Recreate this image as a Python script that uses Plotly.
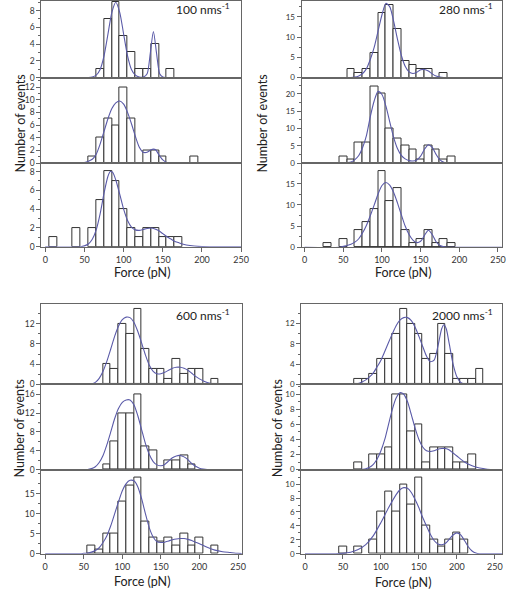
import plotly.graph_objects as go

W, H = 513, 601

# ---------------- data ----------------
bin_centers = [10, 20, 30, 40, 50, 60, 70, 80, 90, 100, 110, 120, 130, 140, 150,
               160, 170, 180, 190, 200, 210, 220, 230]

# 100 nm/s
counts_100_a = [0, 0, 0, 0, 0, 0, 1, 7, 9, 5, 3, 1, 1, 4, 0, 1, 0, 0, 0, 0, 0, 0, 0]
counts_100_b = [0, 0, 0, 0, 0, 1, 4, 7, 6, 12, 7, 0, 2, 2, 1, 0, 0, 0, 1, 0, 0, 0, 0]
counts_100_c = [1, 0, 0, 2, 0, 2, 5, 8, 7, 4, 2, 1, 2, 2, 1, 1, 1, 0, 0, 0, 0, 0, 0]
# 280 nm/s
counts_280_a = [0, 0, 0, 0, 0, 2, 1, 2, 6, 16, 18, 12, 4, 3, 2, 2, 0, 1, 0, 0, 0, 0, 0]
counts_280_b = [0, 0, 0, 0, 2, 1, 6, 6, 22, 20, 10, 7, 5, 4, 1, 5, 4, 1, 2, 0, 0, 0, 0]
counts_280_c = [0, 0, 1, 0, 2, 0, 4, 6, 9, 18, 11, 14, 4, 1, 2, 4, 1, 2, 1, 0, 0, 0, 0]
# 600 nm/s
counts_600_a = [0, 0, 0, 0, 0, 0, 0, 4, 3, 12, 10, 15, 7, 3, 3, 1, 5, 2, 3, 3, 0, 1, 0]
counts_600_b = [0, 0, 0, 0, 0, 0, 0, 1, 6, 12, 12, 16, 5, 4, 0, 2, 2, 3, 1, 0, 0, 0, 0]
counts_600_c = [0, 0, 0, 0, 0, 2, 1, 5, 5, 13, 17, 19, 8, 4, 3, 4, 2, 5, 2, 4, 0, 2, 0]
# 2000 nm/s
counts_2000_a = [0, 0, 0, 0, 0, 0, 1, 1, 2, 5, 5, 10, 15, 12, 10, 5, 6, 12, 6, 1, 1, 1, 3]
counts_2000_b = [0, 0, 0, 0, 0, 0, 1, 0, 2, 2, 3, 10, 10, 5, 6, 1, 3, 3, 3, 1, 1, 2, 0]
counts_2000_c = [0, 0, 0, 0, 1, 0, 1, 0, 2, 6, 9, 6, 10, 7, 11, 4, 2, 1, 2, 3, 2, 0, 0]

# fitted curves
fitx_100_a = [0, 55, 60, 65, 70, 75, 80, 85, 90, 95, 100, 105, 110, 115, 120, 125, 130, 134, 138, 142, 146, 150, 155, 250]
fity_100_a = [0, 0, 0.06, 0.28, 0.97, 2.6, 5.2, 7.8, 9, 7.8, 5.2, 2.6, 0.97, 0.28, 0.06, 0.05, 0.45, 2.9, 5.5, 2.9, 0.45, 0.05, 0, 0]

fitx_100_b = [0, 45, 50, 55, 60, 65, 70, 75, 80, 85, 90, 95, 100, 105, 110, 115, 120, 125, 130, 135, 138, 141, 145, 150, 155, 160, 250]
fity_100_b = [0, 0, 0.1, 0.3, 0.6, 1.4, 3, 5, 7, 8.6, 9.5, 9.8, 9.3, 8, 6.2, 4.2, 2.5, 1.7, 1.7, 2.1, 2.2, 2.1, 1.3, 0.5, 0.1, 0, 0]

fitx_100_c = [0, 45, 50, 55, 60, 65, 70, 75, 80, 83, 86, 90, 95, 100, 105, 110, 115, 120, 125, 130, 135, 140, 145, 150, 155, 160, 165, 170, 175, 180, 190, 200, 210, 250]
fity_100_c = [0, 0, 0.1, 0.3, 0.8, 1.8, 3.5, 5.7, 7.5, 8, 7.9, 7.1, 5.6, 4, 2.8, 2.1, 1.8, 1.75, 1.85, 1.95, 2, 1.9, 1.7, 1.4, 1.1, 0.85, 0.6, 0.45, 0.3, 0.2, 0.08, 0.02, 0, 0]

fitx_280_a = [0, 60, 65, 70, 75, 80, 85, 90, 95, 100, 105, 110, 115, 120, 125, 130, 135, 140, 145, 150, 155, 160, 165, 170, 175, 180, 255]
fity_280_a = [0, 0, 0.1, 0.4, 1, 2.2, 4.5, 7.5, 11.5, 15.5, 18.3, 17.5, 14, 9.5, 5.5, 2.8, 1.4, 1.0, 1.3, 1.9, 2.0, 1.6, 0.9, 0.35, 0.1, 0, 0]

fitx_280_b = [0, 50, 55, 60, 65, 70, 75, 80, 85, 90, 95, 100, 105, 110, 115, 120, 125, 130, 135, 140, 145, 150, 155, 160, 165, 170, 175, 180, 185, 255]
fity_280_b = [0, 0, 0.1, 0.3, 1, 2.2, 4.5, 8, 13.5, 18, 20.7, 19.8, 16.5, 12, 7.5, 4.2, 2.2, 1.2, 0.7, 0.6, 0.9, 2, 4, 5.3, 4.5, 2.5, 0.9, 0.2, 0, 0]

fitx_280_c = [0, 45, 50, 55, 60, 65, 70, 75, 80, 85, 90, 95, 100, 105, 110, 115, 120, 125, 130, 135, 140, 145, 150, 155, 160, 165, 170, 175, 180, 185, 255]
fity_280_c = [0, 0, 0.2, 0.4, 0.7, 1.2, 2, 3.4, 5.2, 7.5, 10, 12.6, 14.6, 15.3, 14.7, 13, 10.5, 7.7, 5, 3, 1.7, 1.1, 1.4, 2.8, 4, 3, 1.3, 0.4, 0.1, 0, 0]

fitx_600_a = [0, 55, 60, 65, 70, 75, 80, 85, 90, 95, 100, 105, 110, 115, 120, 125, 130, 135, 140, 145, 150, 155, 160, 165, 170, 175, 180, 185, 190, 195, 200, 205, 210, 215, 220, 225, 255]
fity_600_a = [0, 0, 0.1, 0.4, 1.2, 2.6, 4.6, 7, 9.5, 11.5, 12.8, 13.3, 13.2, 12.3, 10.5, 8.2, 5.8, 3.8, 2.6, 2.1, 2.1, 2.4, 2.8, 3.2, 3.4, 3.4, 3.2, 2.8, 2.2, 1.6, 1.1, 0.7, 0.4, 0.2, 0.1, 0, 0]

fitx_600_b = [0, 55, 60, 65, 70, 75, 80, 85, 90, 95, 100, 105, 110, 115, 120, 125, 130, 135, 140, 145, 150, 155, 160, 165, 170, 175, 180, 185, 190, 195, 200, 205, 210, 255]
fity_600_b = [0, 0, 0.2, 0.6, 1.5, 3, 5.3, 8, 10.8, 13, 14.3, 14.8, 14.8, 13.8, 11.5, 8.5, 5.5, 3.2, 1.7, 1, 0.8, 1.1, 1.8, 2.5, 2.9, 3, 2.7, 2.1, 1.3, 0.7, 0.3, 0.1, 0, 0]

fitx_600_c = [0, 45, 50, 55, 60, 65, 70, 75, 80, 85, 90, 95, 100, 105, 110, 115, 120, 125, 130, 135, 140, 145, 150, 155, 160, 165, 170, 175, 180, 185, 190, 195, 200, 210, 220, 230, 240, 250, 255]
fity_600_c = [0, 0, 0.1, 0.2, 0.4, 0.8, 1.5, 2.8, 4.5, 7, 10, 13, 15.8, 17.6, 18.4, 18.3, 16.8, 13.8, 10, 6.5, 4.2, 3, 2.8, 2.9, 3.2, 3.5, 3.7, 3.8, 3.8, 3.6, 3.3, 2.9, 2.5, 1.6, 0.9, 0.5, 0.3, 0.1, 0.05]

fitx_2000_a = [0, 60, 70, 75, 80, 85, 90, 95, 100, 105, 110, 115, 120, 125, 130, 135, 140, 145, 150, 155, 160, 165, 170, 175, 180, 183, 186, 190, 195, 200, 205, 210, 215, 260]
fity_2000_a = [0, 0, 0.2, 0.5, 0.9, 1.5, 2.3, 3.5, 4.8, 6.5, 8.3, 10, 11.6, 12.7, 13.2, 13.2, 12.6, 11.3, 9.5, 7.5, 5.6, 4.5, 4.8, 7.5, 11, 11.8, 11, 8, 4, 1.5, 0.4, 0.1, 0, 0]

fitx_2000_b = [0, 70, 80, 85, 90, 95, 100, 105, 110, 115, 120, 125, 130, 135, 140, 145, 150, 155, 160, 165, 170, 175, 180, 185, 190, 195, 200, 210, 220, 230, 240, 250, 260]
fity_2000_b = [0, 0, 0.1, 0.3, 0.7, 1.4, 2.5, 4, 6, 8, 9.5, 10.2, 10, 9, 7.3, 5.5, 4, 3, 2.5, 2.4, 2.5, 2.7, 2.8, 2.8, 2.6, 2.2, 1.8, 1, 0.5, 0.2, 0.05, 0, 0]

fitx_2000_c = [0, 40, 50, 60, 70, 80, 90, 100, 110, 120, 125, 130, 135, 140, 145, 150, 155, 160, 165, 170, 175, 180, 185, 190, 195, 200, 205, 210, 215, 220, 225, 230, 260]
fity_2000_c = [0, 0, 0.05, 0.2, 0.6, 1.3, 2.6, 4.5, 6.6, 8.5, 9.2, 9.5, 9.4, 8.8, 7.8, 6.6, 5.2, 4, 2.8, 1.9, 1.4, 1.3, 1.5, 2.1, 2.7, 3, 2.7, 1.9, 1, 0.4, 0.1, 0, 0]

speed_labels = ["100", "280", "600", "2000"]
x_title = "Force (pN)"
y_title = "Number of events"
x_ticks = [0, 50, 100, 150, 200, 250]

# y tick labels per panel row
yticks_100 = [[0, 2, 4, 6, 8], [0, 2, 4, 6, 8, 10, 12], [0, 2, 4, 6, 8]]
yticks_280 = [[0, 5, 10, 15], [0, 5, 10, 15, 20], [0, 5, 10, 15]]
yticks_600 = [[0, 4, 8, 12], [0, 4, 8, 12, 16], [0, 5, 10, 15]]
yticks_2000 = [[0, 4, 8, 12], [0, 2, 4, 6, 8, 10], [0, 2, 4, 6, 8, 10]]

# ---------------- layout helpers ----------------
FONT = "Lato"
BAR_LINE = "#333333"
CURVE = "#5a5aa8"
AXIS = "#666666"


def fx(p):
    return p / W


def fy(p):
    return 1 - p / H


panels = [
    dict(speed=speed_labels[0], xdom=(42, 245), xr=(-5, 250), tfs=8.5,
         rows=[(0, 77.3, 9.15, 2), (77.3, 163.7, 13.5, 2), (163.7, 248.3, 8.9, 2)],
         yt=yticks_100,
         data=[(counts_100_a, fitx_100_a, fity_100_a), (counts_100_b, fitx_100_b, fity_100_b),
               (counts_100_c, fitx_100_c, fity_100_c)],
         ann=(236, 8), ylab=(21, 124), xlab=(145, 274)),
    dict(speed=speed_labels[1], xdom=(306.3, 509.8), xr=(-4, 255), tfs=8,
         rows=[(0, 77.3, 18.9, 5), (77.3, 163.7, 24.7, 5), (163.7, 248.7, 19.9, 5)],
         yt=yticks_280,
         data=[(counts_280_a, fitx_280_a, fity_280_a), (counts_280_b, fitx_280_b, fity_280_b),
               (counts_280_c, fitx_280_c, fity_280_c)],
         ann=(503, 8), ylab=(267, 124), xlab=(410, 274)),
    dict(speed=speed_labels[2], xdom=(42, 245.7), xr=(-5, 255), tfs=8.5,
         rows=[(306, 387.3, 15.9, 4), (387.3, 473.3, 18.1, 4), (473.3, 558.3, 21.1, 5)],
         yt=yticks_600,
         data=[(counts_600_a, fitx_600_a, fity_600_a), (counts_600_b, fitx_600_b, fity_600_b),
               (counts_600_c, fitx_600_c, fity_600_c)],
         ann=(236, 317), ylab=(20, 432), xlab=(145, 586)),
    dict(speed=speed_labels[3], xdom=(306, 510), xr=(-5, 259.5), tfs=8,
         rows=[(306, 387.3, 15.9, 4), (387.3, 473.3, 11.3, 2), (473.3, 558.3, 12.1, 2)],
         yt=yticks_2000,
         data=[(counts_2000_a, fitx_2000_a, fity_2000_a), (counts_2000_b, fitx_2000_b, fity_2000_b),
               (counts_2000_c, fitx_2000_c, fity_2000_c)],
         ann=(503, 317), ylab=(282, 432), xlab=(410, 587)),
]

fig = go.Figure()
layout = dict(width=W, height=H, margin=dict(l=0, r=0, t=0, b=0),
              paper_bgcolor="white", plot_bgcolor="white", showlegend=False,
              bargap=0)
annotations = []

k = 0
for p in panels:
    tickfont = dict(family=FONT, size=p["tfs"], color="#333333")
    for r, (top, bot, ymax, dt) in enumerate(p["rows"]):
        k += 1
        xa = "xaxis" if k == 1 else f"xaxis{k}"
        ya = "yaxis" if k == 1 else f"yaxis{k}"
        xref = "x" if k == 1 else f"x{k}"
        yref = "y" if k == 1 else f"y{k}"
        counts, fx_, fy_ = p["data"][r]
        fig.add_trace(go.Bar(
            x=bin_centers, y=[c if c else None for c in counts], width=10,
            marker=dict(color="white", line=dict(color=BAR_LINE, width=1)),
            xaxis=xref, yaxis=yref, hoverinfo="skip"))
        fig.add_trace(go.Scatter(
            x=fx_, y=fy_, mode="lines",
            line=dict(color=CURVE, width=1.1, shape="spline", smoothing=0.7),
            xaxis=xref, yaxis=yref, hoverinfo="skip"))
        last = r == 2
        layout[xa] = dict(
            domain=[fx(p["xdom"][0]), fx(p["xdom"][1])], range=list(p["xr"]),
            anchor=yref, showgrid=False, zeroline=False,
            showline=True, linecolor=AXIS, linewidth=1, mirror=True,
            tickmode="array", tickvals=x_ticks if last else [],
            ticks="outside" if last else "", ticklen=4, tickcolor=AXIS,
            showticklabels=last, tickfont=dict(family=FONT, size=9, color="#333333"),
        )
        layout[ya] = dict(
            domain=[fy(bot), fy(top)], range=[0, ymax], anchor=xref,
            showgrid=False, zeroline=False,
            showline=True, linecolor=AXIS, linewidth=1, mirror=True,
            tickmode="array", tickvals=p["yt"][r],
            ticks="outside", ticklen=4, tickcolor=AXIS,
            tickfont=tickfont,
            minor=dict(dtick=dt / 2, tick0=0, ticks="outside", ticklen=2, tickcolor=AXIS),
        )
    annotations.append(dict(
        text=f"{p['speed']} nms<sup>-1</sup>", x=fx(p["ann"][0]), y=fy(p["ann"][1]),
        xref="paper", yref="paper", xanchor="right", yanchor="middle", showarrow=False,
        font=dict(family=FONT, size=12, color="#222222")))
    annotations.append(dict(
        text=y_title, x=fx(p["ylab"][0]), y=fy(p["ylab"][1]), textangle=-90,
        xref="paper", yref="paper", xanchor="center", yanchor="middle", showarrow=False,
        font=dict(family=FONT, size=12.5, color="#222222")))
    annotations.append(dict(
        text=x_title, x=fx(p["xlab"][0]), y=fy(p["xlab"][1]),
        xref="paper", yref="paper", xanchor="center", yanchor="middle", showarrow=False,
        font=dict(family=FONT, size=12.5, color="#222222")))

layout["annotations"] = annotations
fig.update_layout(**layout)
fig.write_html("out.html")
